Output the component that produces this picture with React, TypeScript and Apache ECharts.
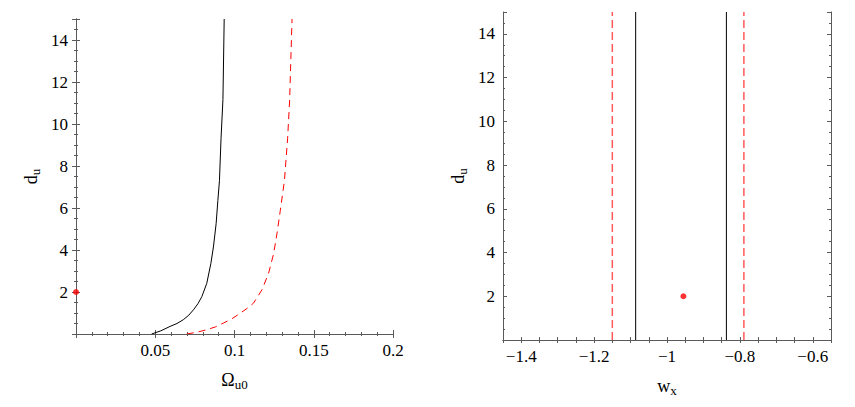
import React, { useEffect, useRef } from 'react';
import * as echarts from 'echarts';

// Left panel: Omega_u0 vs d_u
const omegaBlack = [0.0477, 0.0535, 0.0593, 0.0637, 0.0677, 0.0712, 0.0741, 0.0770, 0.0794, 0.0825, 0.0851, 0.0867, 0.0884, 0.0895, 0.0905, 0.0915, 0.0927, 0.0935];
const duBlack = [0, 0.15, 0.36, 0.5, 0.68, 0.9, 1.15, 1.45, 1.78, 2.41, 3.36, 4.14, 5.25, 6.35, 7.3, 9.3, 11.16, 15];
const omegaRed = [0.0699, 0.0765, 0.0825, 0.088, 0.093, 0.0985, 0.1036, 0.108, 0.112, 0.1173, 0.1215, 0.1247, 0.1268, 0.1289, 0.1315, 0.1335, 0.1348, 0.1363];
const duRed = [0, 0.09, 0.2, 0.34, 0.52, 0.73, 0.99, 1.22, 1.47, 2.1, 2.89, 3.83, 4.78, 5.88, 7.3, 9.3, 11.16, 15];
const leftPoint = [0, 2];

// Right panel: w_x vs d_u (vertical bounds)
const wxBlack = [-1.086, -0.837];
const wxRed = [-1.15, -0.789];
const rightPoint = [-0.955, 2];
const duRange = [0, 15];

// Tick labels
const leftXTicks = [0.05, 0.1, 0.15, 0.2];
const rightXTicks = [-1.4, -1.2, -1, -0.8, -0.6];
const yTicks = [2, 4, 6, 8, 10, 12, 14];

// Tick steps (major step, minor step)
const leftXStep = 0.05;
const leftXMinor = 0.01;
const rightXStep = 0.2;
const rightXMinor = 0.05;
const yStep = 2;
const yMinor = 0.5;

const FONT = 'Liberation Serif';
const FRAME = '#5a5a5a';

const richName = {
  m: { fontFamily: FONT, fontSize: 18, lineHeight: 22, color: '#000' },
  s: { fontFamily: FONT, fontSize: 13, lineHeight: 10, verticalAlign: 'bottom', color: '#000' },
};

const isMultiple = (v: number, step: number) => {
  const q = v / step;
  return Math.abs(q - Math.round(q)) < 1e-6;
};
const fmt = (v: number) => {
  const r = Math.round(v * 1000) / 1000;
  return r < 0 ? '\u2212' + String(Math.abs(r)) : String(r);
};

function buildAxes(
  dim: 'x' | 'y',
  gridIndex: number,
  min: number,
  max: number,
  step: number,
  minor: number,
  name: string,
  nameGap: number
) {
  const posA = dim === 'x' ? 'bottom' : 'left';
  const posB = dim === 'x' ? 'top' : 'right';
  const useMajor = isMultiple(min, step);
  const interval = useMajor ? step : minor;
  const minorTick = useMajor
    ? { show: true, splitNumber: Math.round(step / minor), length: 2, lineStyle: { color: FRAME } }
    : { show: false };
  const common = {
    type: 'value', gridIndex, min, max, interval,
    splitLine: { show: false }, minorSplitLine: { show: false },
    axisLine: { show: true, lineStyle: { color: FRAME, width: 1 } },
    axisTick: { show: true, inside: true, length: useMajor ? 4 : 3, lineStyle: { color: FRAME } },
    minorTick,
    axisLabel: { show: false },
  };
  return [
    { ...common, position: posA, name, nameLocation: 'middle', nameGap, nameTextStyle: { rich: richName } },
    { ...common, position: posB },
  ];
}

export default function App() {
  const ref = useRef<HTMLDivElement>(null);
  useEffect(() => {
    if (!ref.current) return;
    const chart = echarts.init(ref.current, undefined, { renderer: 'svg' });
    const zip = (xs: number[], ys: number[]) => xs.map((x, i) => [x, ys[i]]);
    const vline = (x: number) => [[x, duRange[0]], [x, duRange[1]]];

    const xAxis = [
      ...buildAxes('x', 0, 0, 0.2, leftXStep, leftXMinor, '{m|\u03A9}{s|u0}', 35),
      ...buildAxes('x', 1, -1.45, -0.55, rightXStep, rightXMinor, '{m|w}{s|x}', 35),
    ];
    const yAxis = [
      ...buildAxes('y', 0, 0, 15, yStep, yMinor, '{m|d}{s|u}', 34),
      ...buildAxes('y', 1, 0, 15, yStep, yMinor, '{m|d}{s|u}', 34),
    ];

    const series: any[] = [
      {
        type: 'line', xAxisIndex: 0, yAxisIndex: 0, data: zip(omegaBlack, duBlack),
        smooth: false, showSymbol: false, lineStyle: { color: '#000', width: 1 },
      },
      {
        type: 'line', xAxisIndex: 0, yAxisIndex: 0, data: zip(omegaRed, duRed),
        smooth: false, showSymbol: false, lineStyle: { color: '#ff0000', width: 1, type: [7, 5] },
      },
      {
        type: 'scatter', xAxisIndex: 0, yAxisIndex: 0, data: [leftPoint],
        symbolSize: 6, itemStyle: { color: '#ff0000' },
      },
      ...wxBlack.map((x) => ({
        type: 'line', xAxisIndex: 2, yAxisIndex: 2, data: vline(x),
        showSymbol: false, lineStyle: { color: '#000', width: 1 },
      })),
      ...wxRed.map((x) => ({
        type: 'line', xAxisIndex: 2, yAxisIndex: 2, data: vline(x),
        showSymbol: false, lineStyle: { color: '#ff5a5a', width: 1.5, type: [8, 4] },
      })),
      {
        type: 'scatter', xAxisIndex: 2, yAxisIndex: 2, data: [rightPoint],
        symbolSize: 6, itemStyle: { color: '#ff0000' },
      },
    ];

    chart.setOption({
      animation: false,
      backgroundColor: '#fff',
      textStyle: { fontFamily: FONT, fontSize: 17, color: '#000' },
      grid: [
        { left: 76, top: 19, width: 317, height: 315, containLabel: false },
        { left: 503, top: 12, width: 328, height: 328, containLabel: false },
      ],
      xAxis,
      yAxis,
      series,
    });

    // tick labels placed through the axes' own scales
    const labelStyle = (text: string, align: string, vAlign: string) => ({
      text, fontFamily: FONT, fontSize: 17, fill: '#000', align, verticalAlign: vAlign,
    });
    const elems: any[] = [];
    const panels = [
      { xi: 0, yi: 0, xTicks: leftXTicks, yMin: 0 },
      { xi: 2, yi: 2, xTicks: rightXTicks, yMin: 0 },
    ];
    panels.forEach((p) => {
      const finder = { xAxisIndex: p.xi, yAxisIndex: p.yi };
      p.xTicks.forEach((v) => {
        const pt = chart.convertToPixel(finder, [v, p.yMin]) as number[];
        elems.push({ type: 'text', x: pt[0], y: pt[1] + 8, silent: true, style: labelStyle(fmt(v), 'center', 'top') });
      });
      const xMin = (chart.getModel() as any).getComponent('xAxis', p.xi).axis.scale.getExtent()[0];
      yTicks.forEach((v) => {
        const pt = chart.convertToPixel(finder, [xMin, v]) as number[];
        elems.push({ type: 'text', x: pt[0] - 8, y: pt[1], silent: true, style: labelStyle(fmt(v), 'right', 'middle') });
      });
    });
    chart.setOption({ graphic: { elements: elems } });

    return () => chart.dispose();
  }, []);
  return (
    <div
      ref={ref}
      style={{ position: 'absolute', left: 0, top: 0, width: 855, height: 407, background: '#fff' }}
    />
  );
}
